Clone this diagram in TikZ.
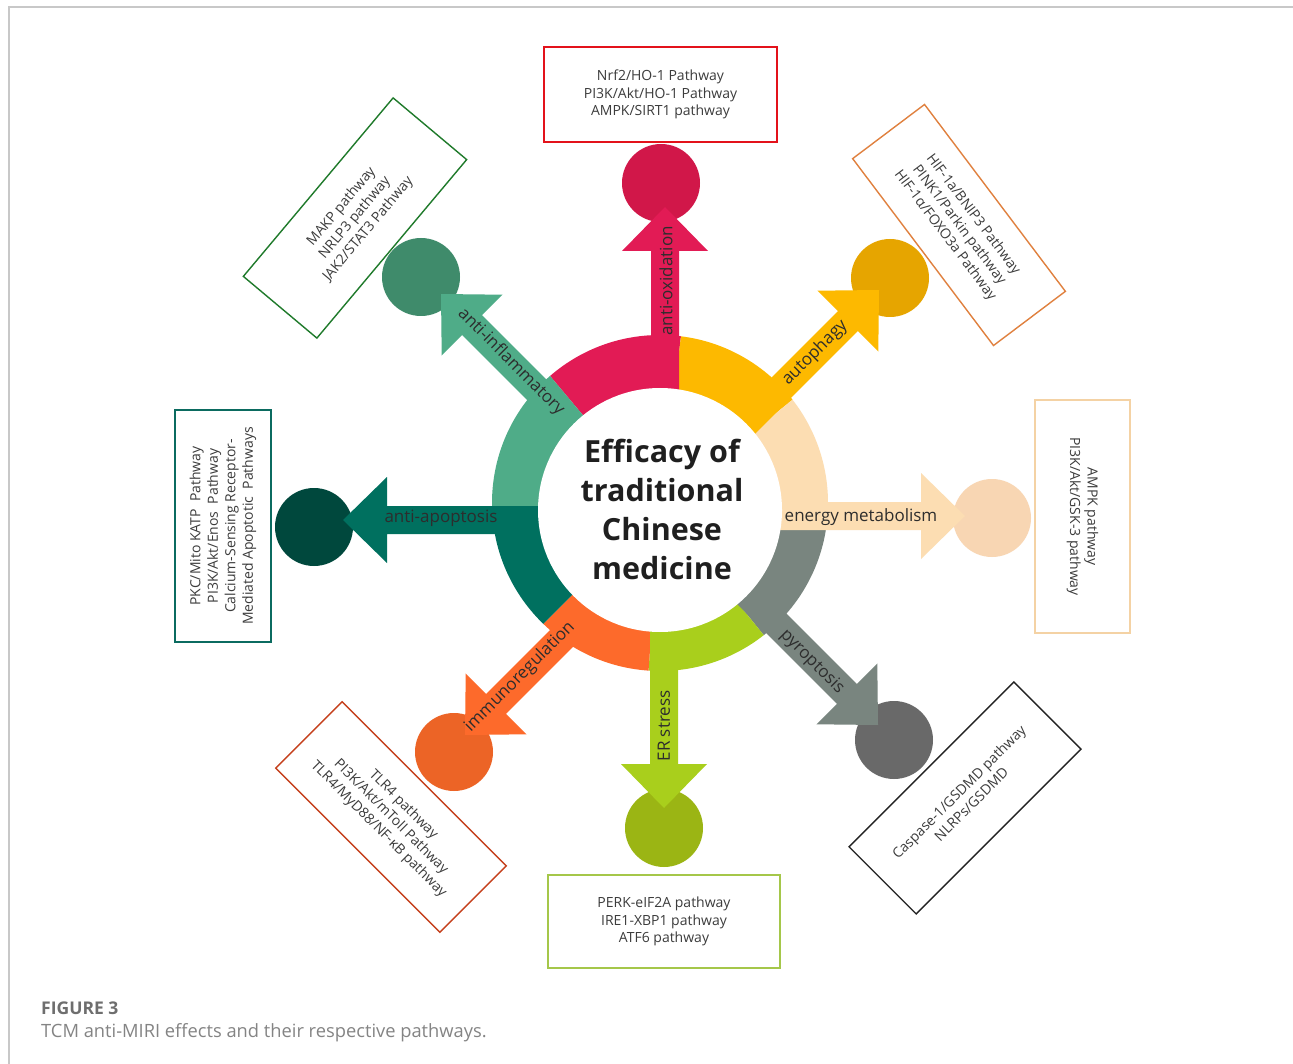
\documentclass[tikz,border=0pt]{standalone}
\usepackage{fontspec}
\setmainfont{Open Sans}
\definecolor{cRed}{HTML}{E21B55}
\definecolor{cRedDot}{HTML}{D11749}
\definecolor{cYel}{HTML}{FDB900}
\definecolor{cYelDot}{HTML}{E6A500}
\definecolor{cPeach}{HTML}{FCDDB2}
\definecolor{cPeachDot}{HTML}{F8D6B3}
\definecolor{cGray}{HTML}{79857F}
\definecolor{cGrayDot}{HTML}{696969}
\definecolor{cLime}{HTML}{A9CF1C}
\definecolor{cLimeDot}{HTML}{9BB514}
\definecolor{cOra}{HTML}{FD6A2B}
\definecolor{cOraDot}{HTML}{EC6426}
\definecolor{cDTeal}{HTML}{00705F}
\definecolor{cDTealDot}{HTML}{00483D}
\definecolor{cLTeal}{HTML}{4FAC88}
\definecolor{cLTealDot}{HTML}{3F8B6B}
\definecolor{bRed}{HTML}{E3121B}
\definecolor{bGreen}{HTML}{1F7A2B}
\definecolor{bOrange}{HTML}{E0813F}
\definecolor{bPeach}{HTML}{F4D2A4}
\definecolor{bBlack}{HTML}{222222}
\definecolor{bLime}{HTML}{A5C74A}
\definecolor{bRust}{HTML}{C5401C}
\definecolor{bTeal}{HTML}{0B6B60}
\definecolor{boxtext}{HTML}{3C3C3C}
\definecolor{labeltext}{HTML}{2D2D2D}
\definecolor{captext}{HTML}{6E6E6E}
\definecolor{framegray}{HTML}{C8C8C8}

% ring wedge between two angles, seen from the hub
\newcommand\ringwedge[3]{%
  \fill[#3] (660,-507) -- ++(#1:300) arc[start angle=#1, end angle=#2, radius=300] -- cycle;}
% block arrow: tip x, tip y (pixels, downwards), direction, colour
\newcommand\effectarrow[4]{%
  \fill[#4, shift={(#1,-#2)}, rotate=#3]
    (0,0) -- (-44,43) -- (-44,14) -- (-300,14) -- (-300,-14) -- (-44,-14) -- (-44,-43) -- cycle;}

\begin{document}
\begin{tikzpicture}[x=1pt,y=1pt,
  dot/.style={circle, inner sep=0pt, minimum size=78pt},
  pathbox/.style={draw, line width=1.4pt, fill=white, align=center, inner sep=0pt,
    text=boxtext, font=\fontsize{14}{17.5}\selectfont},
  armlabel/.style={text=labeltext, font=\fontsize{17}{20}\selectfont, inner sep=0pt}]

\useasboundingbox (0,0) rectangle (1293,-1064);
\fill[white] (0,0) rectangle (1293,-1064);

% frame
\draw[framegray, line width=1.2pt] (9,-1064) -- (9,-7) -- (1293,-7);

% coloured ring
\begin{scope}
  \clip (660,-503) circle (168);
  \ringwedge{83}{130}{cRed}
  \ringwedge{39}{83}{cYel}
  \ringwedge{-8}{39}{cPeach}
  \ringwedge{-51}{-8}{cGray}
  \ringwedge{-94}{-51}{cLime}
  \ringwedge{-135}{-94}{cOra}
  \ringwedge{180}{225}{cDTeal}
  \ringwedge{130}{180}{cLTeal}
\end{scope}

% end dots
\node[dot, fill=cRedDot]   (dotOx)   at (661,-183) {};
\node[dot, fill=cYelDot]   (dotAuto) at (890,-278) {};
\node[dot, fill=cPeachDot] (dotEn)   at (992,-518) {};
\node[dot, fill=cGrayDot]  (dotPyro) at (894,-740) {};
\node[dot, fill=cLimeDot]  (dotER)   at (664,-828) {};
\node[dot, fill=cOraDot]   (dotImm)  at (454,-752) {};
\node[dot, fill=cDTealDot] (dotApo)  at (314,-527) {};
\node[dot, fill=cLTealDot] (dotInf)  at (421,-277) {};

% arrows
\effectarrow{665}{207}{90}{cRed}
\effectarrow{879}{290}{45}{cYel}
\effectarrow{965}{516}{0}{cPeach}
\effectarrow{878}{725}{-45}{cGray}
\effectarrow{664}{808}{-90}{cLime}
\effectarrow{465}{735}{-135}{cOra}
\effectarrow{343}{520}{180}{cDTeal}
\effectarrow{441}{294}{135}{cLTeal}

% hub
\fill[white] (660,-510) circle (122);
\node[font=\bfseries\fontsize{30.5}{39}\selectfont, align=center, text=black!88] (hub)
  at (662,-509) {Efficacy of\\traditional\\Chinese\\medicine};

% arm labels
\node[armlabel, rotate=90]  (lOx)   at (666,-281) {anti-oxidation};
\node[armlabel, rotate=45]  (lAuto) at (815,-353) {autophagy};
\node[armlabel]             (lEn)   at (861,-517) {energy metabolism};
\node[armlabel, rotate=-45] (lPyro) at (812,-662) {pyroptosis};
\node[armlabel, rotate=90]  (lER)   at (664,-726) {ER stress};
\node[armlabel, rotate=45]  (lImm)  at (520,-677) {immunoregulation};
\node[armlabel]             (lApo)  at (441,-518) {anti-apoptosis};
\node[armlabel, rotate=-45] (lInf)  at (511,-362) {anti-inflammatory};

% pathway boxes
\node[pathbox, draw=bRed, minimum width=233, minimum height=95] (bOx) at (660.5,-94.5)
  {Nrf2/HO-1 Pathway\\PI3K/Akt/HO-1 Pathway\\AMPK/SIRT1 pathway};
\node[pathbox, draw=bOrange, minimum width=234, minimum height=90, rotate=-53] (bAuto) at (959,-225)
  {HIF-1a/BNIP3 Pathway\\PINK1/Parkin pathway\\HIF-1α/FOXO3a Pathway};
\node[pathbox, draw=bPeach, minimum width=233, minimum height=95, rotate=-90] (bEn) at (1082.5,-516.5)
  {AMPK pathway\\PI3K/Akt/GSK-3 pathway};
\node[pathbox, draw=bBlack, minimum width=233, minimum height=95, rotate=45] (bPyro) at (965,-798)
  {Caspase-1/GSDMD pathway\\NLRPs/GSDMD};
\node[pathbox, draw=bLime, minimum width=232, minimum height=93] (bER) at (664,-921.5)
  {PERK-eIF2A pathway\\IRE1-XBP1 pathway\\ATF6 pathway};
\node[pathbox, draw=bRust, minimum width=232, minimum height=94, rotate=-45] (bImm) at (391,-817)
  {TLR4 pathway\\PI3K/Akt/mToll Pathway\\TLR4/MyD88/NF-κB pathway};
\node[pathbox, draw=bTeal, minimum width=232, minimum height=96, rotate=90] (bApo) at (223,-526)
  {PKC/Mito KATP\ \ Pathway\\PI3K/Akt/Enos\ \ Pathway\\Calcium-Sensing Receptor-\\Mediated Apoptotic\ \ Pathways};
\node[pathbox, draw=bGreen, minimum width=233, minimum height=96, rotate=50] (bInf) at (355,-218)
  {MAKP pathway\\NRLP3 pathway\\JAK2/STAT3 Pathway};

% caption
\node[anchor=base west, inner sep=0pt, text=captext, font=\bfseries\fontsize{17.5}{20}\selectfont] (capA)
  at (41,-1014) {FIGURE 3};
\node[anchor=base west, inner sep=0pt, text=captext!85, font=\fontsize{18.3}{20}\selectfont] (capB)
  at (41,-1037) {TCM anti-MIRI effects and their respective pathways.};
\end{tikzpicture}
\end{document}
